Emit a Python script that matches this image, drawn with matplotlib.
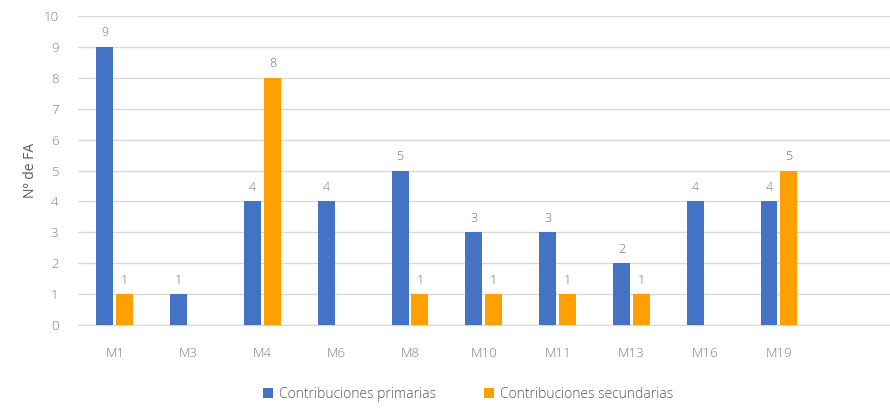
import matplotlib.pyplot as plt
import numpy as np

categories = ["M1", "M3", "M4", "M6", "M8", "M10", "M11", "M13", "M16", "M19"]
primarias = [9, 1, 4, 4, 5, 3, 3, 2, 4, 4]
secundarias = [1, 0, 8, 0, 1, 1, 1, 1, 0, 5]

plt.rcParams["font.family"] = ["Open Sans", "DejaVu Sans"]
plt.rcParams["font.weight"] = "light"
grey = "#7f7f7f"

fig = plt.figure(figsize=(8.9, 4.09), dpi=100)
ax = fig.add_axes([0.0876, 0.205, 0.912, 0.756])

x = np.arange(len(categories))
w = 0.23
off = 0.135
b1 = ax.bar(x - off, primarias, w, color="#4472C4", label="Contribuciones primarias", zorder=3)
b2 = ax.bar(x + off, secundarias, w, color="#FFA000", label="Contribuciones secundarias", zorder=3)

for bars, vals in ((b1, primarias), (b2, secundarias)):
    for bar, v in zip(bars, vals):
        if v == 0:
            continue
        ax.text(bar.get_x() + bar.get_width() / 2, v + 0.25, str(v),
                ha="center", va="bottom", fontsize=9, color="#6f6f6f")

ax.set_xlim(-0.5, len(categories) + 0.5)
ax.set_ylim(0, 10)
ax.set_yticks(range(11))
ax.set_xticks(x)
ax.set_xticklabels(categories)
ax.yaxis.grid(True, color="#d9d9d9", linewidth=1, zorder=0)
for s in ("top", "right", "left"):
    ax.spines[s].set_visible(False)
ax.spines["bottom"].set_color("#d9d9d9")
ax.tick_params(axis="both", length=0, labelsize=9.5, labelcolor=grey)
ax.tick_params(axis="x", pad=16)
ax.tick_params(axis="y", pad=14)
ax.set_ylabel("Nº de FA", fontsize=10, color="#595959", labelpad=4)

fig.legend(handles=[b1, b2], loc="center", bbox_to_anchor=(0.526, 0.035), ncol=2,
           frameon=False, fontsize=10, labelcolor="#595959",
           handlelength=0.7, handleheight=0.7, handletextpad=0.4, columnspacing=3.5)

fig.savefig("out.png", dpi=100)
